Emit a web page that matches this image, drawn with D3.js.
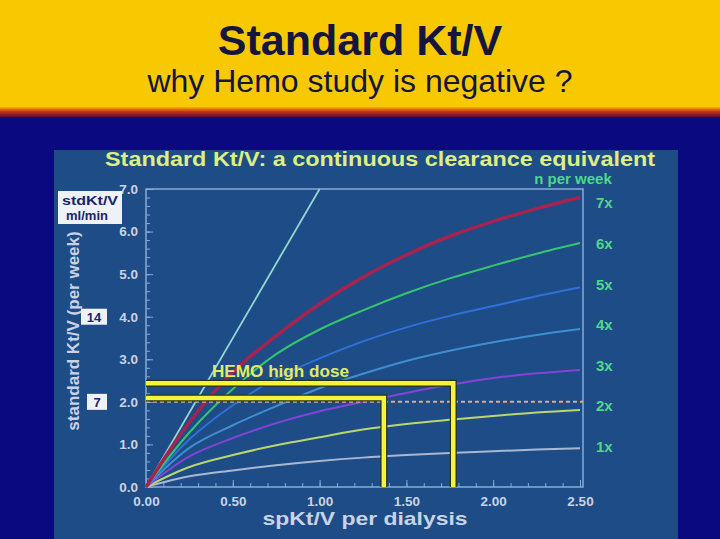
<!DOCTYPE html>
<html>
<head>
<meta charset="utf-8">
<script src="https://cdn.jsdelivr.net/npm/d3@7"></script>
<style>
  body { margin: 0; background: #0a0a7e; }
  svg { display: block; font-family: "Liberation Sans", Arial, sans-serif; }
</style>
</head>
<body>
<script>
// spKt/V sample points and std Kt/V
const spKtV = [0, 0.25, 0.5, 0.75, 1.0, 1.25, 1.5, 1.75, 2.0, 2.25, 2.5];
const n1 = [0, 0.25, 0.39, 0.51, 0.61, 0.69, 0.75, 0.80, 0.84, 0.88, 0.91];
const n2 = [0, 0.47, 0.75, 0.98, 1.17, 1.35, 1.48, 1.58, 1.67, 1.75, 1.81];
const n3 = [0, 0.72, 1.15, 1.50, 1.78, 2.00, 2.21, 2.40, 2.56, 2.67, 2.75];
const n4 = [0, 0.92, 1.45, 1.90, 2.32, 2.66, 2.96, 3.20, 3.40, 3.57, 3.71];
const n5 = [0, 1.12, 1.92, 2.55, 3.02, 3.42, 3.75, 4.02, 4.25, 4.48, 4.69];
const n6 = [0, 1.28, 2.30, 3.12, 3.70, 4.15, 4.55, 4.90, 5.20, 5.48, 5.73];
const n7 = [0, 1.52, 2.70, 3.55, 4.30, 4.93, 5.45, 5.89, 6.24, 6.54, 6.80];
const continuous = [[0, 0], [1.0, 7.0]];

const perWeek = [1, 2, 3, 4, 5, 6, 7];
const sessionLabels = ["1x", "2x", "3x", "4x", "5x", "6x", "7x"];
const curveColors = ["#a9b8d2", "#b9d76e", "#8443d9", "#3f8fd0", "#3070d8", "#36c46e", "#a6234f"];

// HEMO study doses: spKt/V and the matching std Kt/V
const hemoSp = [1.37, 1.77];
const hemoStd = [2.09, 2.44];
const refStd = 2.0;

const xTicks = [0, 0.5, 1.0, 1.5, 2.0, 2.5];
const yTicks = [0, 1, 2, 3, 4, 5, 6, 7];

const width = 720, height = 539;
const svg = d3.select("body").append("svg")
    .attr("width", width)
    .attr("height", height);

// header
const defs = svg.append("defs");
const grad = defs.append("linearGradient").attr("id", "stripe")
    .attr("x1", 0).attr("y1", 0).attr("x2", 0).attr("y2", 1);
grad.append("stop").attr("offset", "0%").attr("stop-color", "#f2b200");
grad.append("stop").attr("offset", "45%").attr("stop-color", "#c83414");
grad.append("stop").attr("offset", "100%").attr("stop-color", "#5a0a3a");

svg.append("rect").attr("width", width).attr("height", height).attr("fill", "#0a0a7e");
svg.append("rect").attr("width", width).attr("height", 108).attr("fill", "#f8c800");
svg.append("rect").attr("y", 107).attr("width", width).attr("height", 10).attr("fill", "url(#stripe)");

svg.append("text")
    .attr("x", 360).attr("y", 55)
    .attr("text-anchor", "middle")
    .attr("font-size", 43).attr("font-weight", "bold")
    .attr("fill", "#15163e")
    .text("Standard Kt/V");
svg.append("text")
    .attr("x", 360).attr("y", 92)
    .attr("text-anchor", "middle")
    .attr("font-size", 32)
    .attr("fill", "#15163e")
    .text("why Hemo study is negative ?");

// inner panel
svg.append("rect")
    .attr("x", 54).attr("y", 150).attr("width", 624).attr("height", 389)
    .attr("fill", "#1e4c86");

svg.append("text")
    .attr("x", 380).attr("y", 166)
    .attr("text-anchor", "middle")
    .attr("font-size", 20).attr("font-weight", "bold")
    .attr("fill", "#dcee84")
    .attr("textLength", 550).attr("lengthAdjust", "spacingAndGlyphs")
    .text("Standard Kt/V: a continuous clearance equivalent");

svg.append("text")
    .attr("x", 573).attr("y", 184)
    .attr("text-anchor", "middle")
    .attr("font-size", 15).attr("font-weight", "bold")
    .attr("fill", "#4fd88c")
    .text("n per week");

const x = d3.scaleLinear().domain([0, 2.5]).range([146, 580]);
const y = d3.scaleLinear().domain([0, 7]).range([487, 189]);

const frameColor = "#86acd8";
const labelColor = "#c9d3e6";

// frame
svg.append("rect")
    .attr("x", x(0)).attr("y", y(7))
    .attr("width", 583 - x(0)).attr("height", y(0) - y(7))
    .attr("fill", "none")
    .attr("stroke", frameColor).attr("stroke-width", 1.5);

// minor ticks, pointing inside
const xMinor = d3.axisBottom(x).tickValues(d3.range(0, 2.51, 0.1)).tickSize(-4).tickFormat("");
const yMinor = d3.axisLeft(y).tickValues(d3.range(0, 7.01, 0.2)).tickSize(-4).tickFormat("");
const xMajor = d3.axisBottom(x).tickValues(xTicks).tickSize(-7).tickFormat("");
const yMajor = d3.axisLeft(y).tickValues(yTicks).tickSize(-7).tickFormat("");
[[xMinor, "x"], [xMajor, "x"], [yMinor, "y"], [yMajor, "y"]].forEach(([ax, k]) => {
  const g = svg.append("g")
      .attr("transform", k === "x" ? `translate(0,${y(0)})` : `translate(${x(0)},0)`)
      .call(ax);
  g.select(".domain").remove();
  g.selectAll("line").attr("stroke", frameColor).attr("stroke-width", 1);
});

// tick labels
const xAxis = svg.append("g")
    .attr("transform", `translate(0,${y(0)})`)
    .call(d3.axisBottom(x).tickValues(xTicks).tickSize(0).tickPadding(9).tickFormat(d3.format(".2f")));
const yAxis = svg.append("g")
    .attr("transform", `translate(${x(0)},0)`)
    .call(d3.axisLeft(y).tickValues(yTicks).tickSize(0).tickPadding(8).tickFormat(d3.format(".1f")));
[xAxis, yAxis].forEach(g => {
  g.select(".domain").remove();
  g.selectAll("text")
      .attr("fill", labelColor)
      .attr("font-size", 13.5).attr("font-weight", "bold")
      .attr("font-family", "'Liberation Sans', Arial, sans-serif");
});

svg.append("text")
    .attr("x", 365).attr("y", 525)
    .attr("text-anchor", "middle")
    .attr("font-size", 19).attr("font-weight", "bold")
    .attr("fill", labelColor)
    .attr("textLength", 205).attr("lengthAdjust", "spacingAndGlyphs")
    .text("spKt/V per dialysis");

svg.append("text")
    .attr("transform", "translate(79,331) rotate(-90)")
    .attr("text-anchor", "middle")
    .attr("font-size", 17).attr("font-weight", "bold")
    .attr("fill", labelColor)
    .text("standard Kt/V (per week)");

// white boxes on the left
const boxText = "#1c2270";
svg.append("rect").attr("x", 58).attr("y", 191).attr("width", 64).attr("height", 33).attr("fill", "#eef1f8");
svg.append("text").attr("x", 90).attr("y", 205).attr("text-anchor", "middle")
    .attr("font-size", 13).attr("font-weight", "bold").attr("fill", boxText)
    .attr("textLength", 56).attr("lengthAdjust", "spacingAndGlyphs").text("stdKt/V");
svg.append("text").attr("x", 87).attr("y", 220).attr("text-anchor", "middle")
    .attr("font-size", 13).attr("font-weight", "bold").attr("fill", boxText).text("ml/min");

const boxes = [{v: 4, t: "14", w: 26}, {v: 2, t: "7", w: 20}];
boxes.forEach(b => {
  svg.append("rect")
      .attr("x", 107 - b.w).attr("y", y(b.v) - 8)
      .attr("width", b.w).attr("height", 16)
      .attr("fill", "#eef1f8");
  svg.append("text")
      .attr("x", 107 - b.w / 2).attr("y", y(b.v) + 5)
      .attr("text-anchor", "middle")
      .attr("font-size", 13).attr("font-weight", "bold")
      .attr("fill", boxText).text(b.t);
});

// curves
const plot = svg.append("g");
const line = d3.line().x(d => x(d[0])).y(d => y(d[1])).curve(d3.curveCatmullRom.alpha(0.5));
const series = [n1, n2, n3, n4, n5, n6, n7];

plot.append("path")
    .datum(continuous)
    .attr("d", d3.line().x(d => x(d[0])).y(d => y(d[1])))
    .attr("fill", "none")
    .attr("stroke", "#92d6d2").attr("stroke-width", 1.8);

series.forEach((vals, i) => {
  plot.append("path")
      .datum(spKtV.map((s, j) => [s, vals[j]]))
      .attr("d", line)
      .attr("fill", "none")
      .attr("stroke", curveColors[i])
      .attr("stroke-width", i === 6 ? 3.5 : 2);
});

// reference dashed line at 2.0
plot.append("line")
    .attr("x1", x(0)).attr("x2", 583)
    .attr("y1", y(refStd)).attr("y2", y(refStd))
    .attr("stroke", "#d9a890").attr("stroke-width", 2)
    .attr("stroke-dasharray", "4,3");

// HEMO doses
hemoSp.forEach((s, i) => {
  const p = `M${x(0)},${y(hemoStd[i])}H${x(s)}V${y(0)}`;
  plot.append("path").attr("d", p).attr("fill", "none")
      .attr("stroke", "#2c3214").attr("stroke-width", 7);
  plot.append("path").attr("d", p).attr("fill", "none")
      .attr("stroke", "#f4f43c").attr("stroke-width", 4.5);
});

svg.append("text")
    .attr("x", 212).attr("y", 377)
    .attr("font-size", 16).attr("font-weight", "bold")
    .attr("fill", "#e2ea62")
    .attr("textLength", 137).attr("lengthAdjust", "spacingAndGlyphs")
    .text("HEMO high dose");

// n per week labels
const nPos = d3.scaleLinear().domain([1, 7]).range([y(0.94), y(6.66)]);
svg.append("g").selectAll("text")
    .data(perWeek)
    .join("text")
    .attr("x", 596)
    .attr("y", d => nPos(d) + 5)
    .attr("font-size", 15).attr("font-weight", "bold")
    .attr("fill", "#4fd88c")
    .text((d, i) => sessionLabels[i]);
</script>
</body>
</html>
